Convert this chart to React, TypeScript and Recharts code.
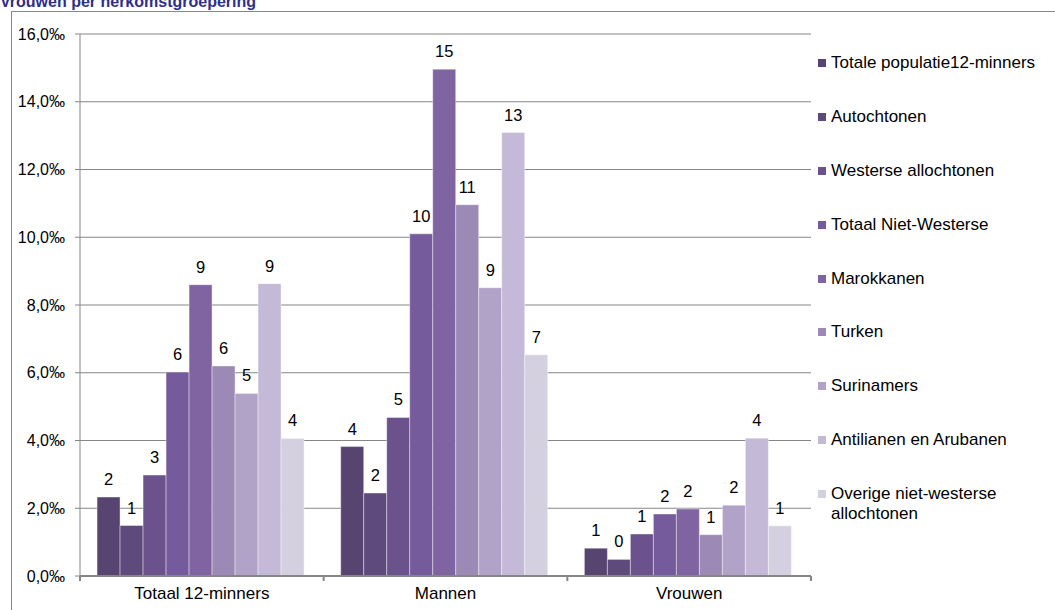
import { BarChart, Bar, XAxis, YAxis, CartesianGrid, LabelList } from 'recharts'

const categories = ['Totaal 12-minners', 'Mannen', 'Vrouwen']

const seriesNames = [
  'Totale populatie12-minners',
  'Autochtonen',
  'Westerse allochtonen',
  'Totaal Niet-Westerse',
  'Marokkanen',
  'Turken',
  'Surinamers',
  'Antilianen en Arubanen',
  'Overige niet-westerse allochtonen',
]

const totaalPopulatie = [2.33, 3.82, 0.82]
const autochtonen = [1.49, 2.45, 0.49]
const westerse = [2.98, 4.68, 1.24]
const totaalNietWesterse = [6.02, 10.1, 1.83]
const marokkanen = [8.6, 14.96, 1.98]
const turken = [6.2, 10.96, 1.22]
const surinamers = [5.39, 8.51, 2.09]
const antilianen = [8.63, 13.09, 4.07]
const overige = [4.06, 6.53, 1.48]

const seriesValues = [
  totaalPopulatie,
  autochtonen,
  westerse,
  totaalNietWesterse,
  marokkanen,
  turken,
  surinamers,
  antilianen,
  overige,
]

const colors = [
  '#574470',
  '#5f4a7d',
  '#6b528d',
  '#755b9b',
  '#8064a2',
  '#9c89b6',
  '#b1a2c7',
  '#c4b9d6',
  '#d5d0e0',
]

const yTicks = [0, 2, 4, 6, 8, 10, 12, 14, 16]

const FONT = "'Liberation Sans', Arial, sans-serif"

const chartData = categories.map((cat, i) => {
  const row: Record<string, string | number> = { name: cat }
  seriesNames.forEach((s, j) => {
    row[s] = seriesValues[j][i]
  })
  return row
})

const formatPermille = (v: number) => `${v.toFixed(1).replace('.', ',')}‰`

const CategoryTick = (props: any) => {
  const { x, y, payload, width } = props
  const band = width / categories.length
  const last = payload.index === categories.length - 1
  return (
    <g>
      <line x1={x - band / 2} y1={y - 8} x2={x - band / 2} y2={y - 3} stroke="#868686" strokeWidth={2} />
      {last && (
        <line x1={x + band / 2} y1={y - 8} x2={x + band / 2} y2={y - 3} stroke="#868686" strokeWidth={2} />
      )}
      <text x={x} y={y + 15} textAnchor="middle" fontSize={17} fontFamily={FONT} fill="#000">
        {payload.value}
      </text>
    </g>
  )
}

// legend drawn beside the chart so it doesn't shrink the plot area
const LegendBox = () => (
  <div style={{ position: 'absolute', left: 818, top: 53, width: 230, fontFamily: FONT, fontSize: 17, color: '#000' }}>
    {seriesNames.map((name, i) => (
      <div
        key={name}
        style={{ display: 'flex', alignItems: 'flex-start', height: 53.9, lineHeight: '20px' }}
      >
        <span
          style={{
            display: 'inline-block',
            width: 8,
            height: 8,
            marginTop: 6,
            marginRight: 5,
            background: colors[i],
            flexShrink: 0,
          }}
        />
        <span style={{ width: 215 }}>{name}</span>
      </div>
    ))}
  </div>
)

export default function App() {
  return (
    <div style={{ position: 'absolute', left: 0, top: 0, width: 1055, height: 610, overflow: 'hidden', background: '#fff' }}>
      <div
        style={{
          position: 'absolute',
          left: 0,
          top: -7,
          fontFamily: FONT,
          fontWeight: 'bold',
          fontSize: 16,
          lineHeight: '18px',
          color: '#2e2f8c',
          whiteSpace: 'nowrap',
        }}
      >
        Vrouwen per herkomstgroepering
      </div>
      <div style={{ position: 'absolute', left: 11, top: 11, width: 1044, height: 600, borderTop: '1px solid #888', borderLeft: '1px solid #888' }} />
      <div style={{ position: 'absolute', left: 0, top: 0 }}>
        <BarChart
          width={1055}
          height={610}
          data={chartData}
          margin={{ top: 34, right: 244, bottom: 0, left: 0 }}
          barCategoryGap="7%"
          barGap={0}
        >
          <CartesianGrid vertical={false} stroke="#868686" strokeWidth={1} />
          <YAxis
            width={80}
            domain={[0, 16]}
            ticks={yTicks}
            interval={0}
            tickFormatter={formatPermille}
            tickSize={5}
            tickMargin={10}
            axisLine={{ stroke: '#868686', strokeWidth: 1 }}
            tickLine={{ stroke: '#868686' }}
            tick={{ fontSize: 16, fontFamily: FONT, fill: '#000' }}
          />
          <XAxis
            dataKey="name"
            height={34}
            interval={0}
            axisLine={{ stroke: '#868686', strokeWidth: 2 }}
            tickLine={false}
            tick={<CategoryTick />}
          />
          {seriesNames.map((name, i) => (
            <Bar
              key={name}
              dataKey={name}
              fill={colors[i]}
              stroke="#ffffff"
              strokeOpacity={0.4}
              strokeWidth={1}
              isAnimationActive={false}
            >
              <LabelList
                dataKey={name}
                position="top"
                offset={12}
                formatter={(v: any) => Math.round(Number(v))}
                style={{ fontSize: 16.5, fontFamily: FONT, fill: '#000' }}
              />
            </Bar>
          ))}
        </BarChart>
      </div>
      <LegendBox />
    </div>
  )
}
